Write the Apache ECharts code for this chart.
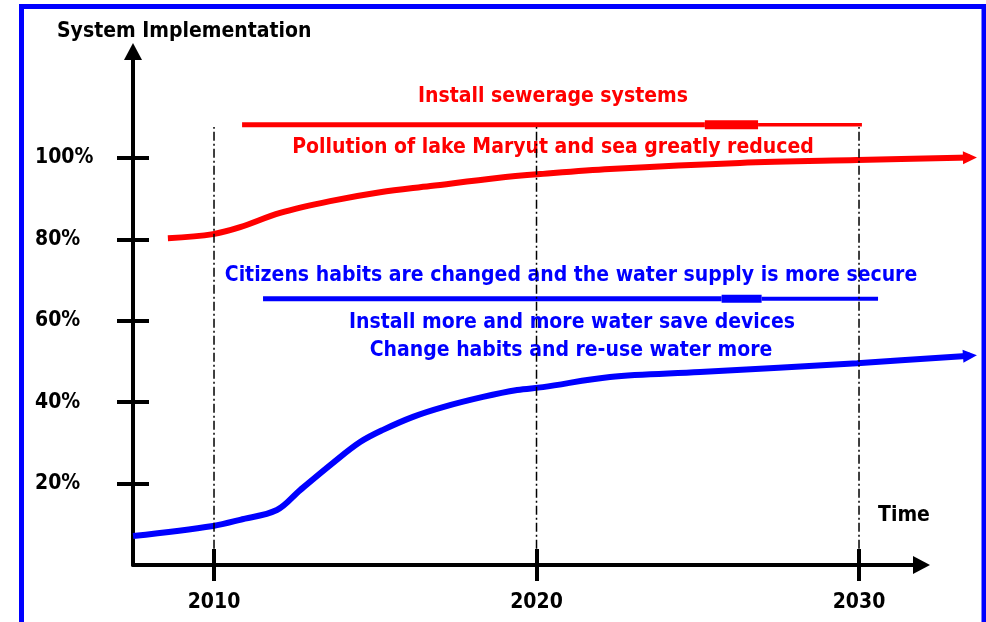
<!DOCTYPE html>
<html>
<head>
<meta charset="utf-8">
<script src="https://cdn.jsdelivr.net/npm/echarts@6/dist/echarts.min.js"></script>
<style>
html,body{margin:0;padding:0;background:#fff;}
#chart{width:986px;height:622px;}
</style>
</head>
<body>
<div id="chart"></div>
<script>
// ---- data ----
const xTickYears = [2010, 2020, 2030];
const yTickPercents = [20, 40, 60, 80, 100];

// Sewerage (red) implementation curve: [year, %]
const sewerageYears  = [2008.57, 2009.97, 2010.81, 2012.05, 2013.60, 2015.15, 2016.71, 2018.78, 2020.20, 2022.28, 2026.31, 2029.94, 2033.44];
const sewerageValues = [80.3,    81.3,    83.0,    86.5,    89.4,    91.6,    93.1,    95.1,    96.1,    97.3,    98.8,    99.5,    100.1];

// Water saving (blue) implementation curve: [year, %]
const waterYears  = [2007.49, 2009.97, 2010.81, 2011.95, 2012.67, 2013.69, 2014.53, 2015.24, 2016.17, 2017.10, 2018.34, 2019.40, 2020.20, 2022.28, 2025.07, 2029.94, 2033.44];
const waterValues = [7.1,     9.6,     11.1,    13.5,    18.4,    25.1,    30.2,    33.2,    36.4,    38.8,    41.3,    43.0,    43.7,    46.2,    47.4,    49.6,    51.4];

// Horizontal programme bars: [startYear, blobStart, blobEnd, endYear], level %
const sewerageBarYears = [2010.87, 2025.22, 2026.87, 2030.09];
const sewerageBarLevel = 108.2;
const waterBarYears    = [2011.52, 2025.74, 2026.98, 2030.59];
const waterBarLevel    = 65.4;

// Vertical reference lines (years) and their extent (%)
const refLineYears = [2010, 2020, 2030];
const refLineRange = [4.0, 107.6];

// Texts
const yAxisTitle = 'System Implementation';
const xAxisTitle = 'Time';
const redTexts  = ['Install sewerage systems', 'Pollution of lake Maryut and sea greatly reduced'];
const blueTexts = ['Citizens habits are changed and the water supply is more secure',
                   'Install more and more water save devices',
                   'Change habits and re-use water more'];

// ---- chart ----
const RED = '#ff0000', BLUE = '#0000ff', BLACK = '#000000';
const FONT = '"DejaVu Sans Condensed", "DejaVu Sans", Lato, sans-serif';

function zip(xs, ys) { return xs.map((x, i) => [x, ys[i]]); }
function withArrow(points, rot) {
  return points.map((p, i) => i === points.length - 1
    ? { value: p, symbol: 'triangle', symbolSize: [13, 14], symbolRotate: rot }
    : { value: p });
}
function seg(a, b, level) { return [[a, level], [b, level]]; }

const DX = 2, DY = 2; // indices of the hidden drawing axes (wider grid, same scale)
const series = [];
// curves
series.push({
  type: 'line', name: 'sewerage', data: withArrow(zip(sewerageYears, sewerageValues), -89),
  xAxisIndex: DX, yAxisIndex: DY,
  smooth: 0.35, symbol: 'none', showSymbol: true, clip: false,
  lineStyle: { color: RED, width: 6 }, itemStyle: { color: RED }, z: 3
});
series.push({
  type: 'line', name: 'water', data: withArrow(zip(waterYears, waterValues), -86),
  xAxisIndex: DX, yAxisIndex: DY,
  smooth: 0.35, symbol: 'none', showSymbol: true, clip: false,
  lineStyle: { color: BLUE, width: 6 }, itemStyle: { color: BLUE }, z: 3
});
// programme bars
[[sewerageBarYears, sewerageBarLevel, RED, [5, 9, 3.5]],
 [waterBarYears, waterBarLevel, BLUE, [5, 8, 4]]].forEach(([yrs, lvl, col, widths]) => {
  for (let i = 0; i < 3; i++) {
    series.push({
      type: 'line', data: seg(yrs[i], yrs[i + 1], lvl), symbol: 'none', clip: false,
      xAxisIndex: DX, yAxisIndex: DY,
      lineStyle: { color: col, width: widths[i], cap: 'butt' }, z: 3
    });
  }
});
// vertical dash-dot reference lines
refLineYears.forEach(yr => {
  series.push({
    type: 'line', data: [[yr, refLineRange[0]], [yr, refLineRange[1]]], symbol: 'none', clip: false,
    xAxisIndex: DX, yAxisIndex: DY,
    lineStyle: { color: BLACK, width: 1.5, type: [9, 3, 2, 3] }, z: 5
  });
});

const pxPerYear = 32.25;
const xMin = 2007.488, xMax = 2031.938, yMax = 126.17;
const xMaxDraw = 2033.8;
const gridLeft = 133, gridTop = 51.5, gridBottom = 57;
const gridRight = 986 - (gridLeft + (xMax - xMin) * pxPerYear);
const gridRightDraw = 986 - (gridLeft + (xMaxDraw - xMin) * pxPerYear);

const numLabel = { color: BLACK, fontFamily: FONT, fontWeight: 'bold', fontSize: 21 };

function txt(x, y, text, color, align) {
  return { type: 'text', z: 1, style: { x: x, y: y, text: text, textAlign: align || 'center',
    textVerticalAlign: 'middle', font: 'bold 21px ' + FONT, fill: color } };
}

const option = {
  animation: false,
  backgroundColor: '#ffffff',
  grid: [
    { left: gridLeft, right: gridRight, top: gridTop, bottom: gridBottom, containLabel: false, outerBoundsMode: 'none' },
    { left: gridLeft, right: gridRightDraw, top: gridTop, bottom: gridBottom, containLabel: false, outerBoundsMode: 'none' }
  ],
  xAxis: [{
    type: 'value', gridIndex: 0, min: xMin, max: xMax, position: 'bottom',
    axisLine: { show: true, onZero: false, symbol: ['none', 'triangle'], symbolSize: [18, 17],
                lineStyle: { color: BLACK, width: 4 } },
    axisTick: { show: true, customValues: xTickYears, length: 16, inside: false, lineStyle: { color: BLACK, width: 4 } },
    axisLabel: Object.assign({ show: true, customValues: xTickYears, margin: 27,
                 formatter: v => String(Math.round(v)) }, numLabel),
    splitLine: { show: false }
  }, {
    type: 'value', gridIndex: 0, min: xMin, max: xMax, position: 'bottom',
    axisLine: { show: false, onZero: false },
    axisTick: { show: true, customValues: xTickYears, length: 16, inside: true, lineStyle: { color: BLACK, width: 4 } },
    axisLabel: { show: false }, splitLine: { show: false }
  }, {
    type: 'value', gridIndex: 1, min: xMin, max: xMaxDraw, show: false
  }],
  yAxis: [{
    type: 'value', gridIndex: 0, min: 0, max: yMax, position: 'left',
    axisLine: { show: true, onZero: false, symbol: ['none', 'triangle'], symbolSize: [18, 17],
                lineStyle: { color: BLACK, width: 4 } },
    axisTick: { show: true, customValues: yTickPercents, length: 16, inside: false, lineStyle: { color: BLACK, width: 4 } },
    axisLabel: Object.assign({ show: true, customValues: yTickPercents, margin: 98, align: 'left',
                 formatter: v => Math.round(v) + '%' }, numLabel),
    splitLine: { show: false }
  }, {
    type: 'value', gridIndex: 0, min: 0, max: yMax, position: 'left',
    axisLine: { show: false, onZero: false },
    axisTick: { show: true, customValues: yTickPercents, length: 16, inside: true, lineStyle: { color: BLACK, width: 4 } },
    axisLabel: { show: false }, splitLine: { show: false }
  }, {
    type: 'value', gridIndex: 1, min: 0, max: yMax, show: false
  }],
  graphic: [
    { type: 'rect', z: 0, shape: { x: 21.5, y: 6.5, width: 962.5, height: 700 },
      style: { fill: 'none', stroke: BLUE, lineWidth: 5 } },
    txt(57, 32, yAxisTitle, BLACK, 'left'),
    txt(904, 516, xAxisTitle, BLACK),
    txt(553, 97, redTexts[0], RED),
    txt(553, 148, redTexts[1], RED),
    txt(571, 276, blueTexts[0], BLUE),
    txt(572, 323, blueTexts[1], BLUE),
    txt(571, 351, blueTexts[2], BLUE)
  ],
  series: series
};

const chart = echarts.init(document.getElementById('chart'), null, { renderer: 'canvas' });
chart.setOption(option);
</script>
</body>
</html>
